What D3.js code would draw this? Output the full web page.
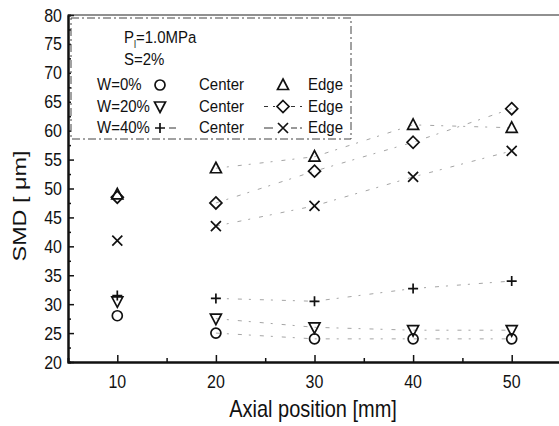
<!DOCTYPE html>
<html>
<head>
<meta charset="utf-8">
<script src="https://cdn.jsdelivr.net/npm/d3@7"></script>
<style>
  body { margin: 0; background: #fff; }
  text { font-family: "Liberation Sans", Arial, sans-serif; fill: #111; }
</style>
</head>
<body>
<div class="chart"></div>
<script>
const positions = [10, 20, 30, 40, 50];

const center0 = [28, 25, 24, 24, 24];
const center20 = [30.5, 27.5, 26, 25.5, 25.5];
const center40 = [31.5, 31, 30.5, 32.7, 34];
const edge0 = [49, 53.5, 55.5, 61, 60.5];
const edge20 = [48.5, 47.5, 53, 58, 63.8];
const edge40 = [41, 43.5, 47, 52, 56.5];

const xTicks = [10, 20, 30, 40, 50];
const yTicks = [20, 25, 30, 35, 40, 45, 50, 55, 60, 65, 70, 75, 80];

const series = [
  { name: "W=0% Center", values: center0, symbol: "circle" },
  { name: "W=20% Center", values: center20, symbol: "down" },
  { name: "W=40% Center", values: center40, symbol: "plus" },
  { name: "W=0% Edge", values: edge0, symbol: "up" },
  { name: "W=20% Edge", values: edge20, symbol: "diamond" },
  { name: "W=40% Edge", values: edge40, symbol: "cross" },
];

const width = 559, height = 426;
const margin = { top: 15, right: -2, bottom: 64, left: 68 };

let svg = d3.select(".chart").append("svg")
  .attr("width", width).attr("height", height);

let x = d3.scaleLinear().domain([5, 55]).range([margin.left, width - margin.right]);
let y = d3.scaleLinear().domain([20, 80]).range([height - margin.bottom, margin.top]);

// text that looks a bit tall, like the scanned original
function tallText(parent, tx, ty, str, size, sy, anchor) {
  let g = parent.append("g").attr("transform", `translate(${tx},${ty}) scale(1,${sy})`);
  let t = g.append("text").style("font-size", size + "px").attr("text-anchor", anchor || "start");
  if (str !== null) t.text(str);
  return t;
}

// faint broken connecting lines
series.forEach(s => {
  const pts = s.values.map((v, i) => [x(positions[i]), y(v)]).slice(1);
  svg.append("path")
    .attr("d", d3.line()(pts))
    .attr("fill", "none")
    .attr("stroke", "#9a9a9a")
    .attr("stroke-width", 0.9)
    .attr("stroke-dasharray", "4,7,2,9");
});

// symbols
function drawSymbol(g, type, cx, cy) {
  let el;
  if (type === "circle") {
    el = g.append("circle").attr("cx", cx).attr("cy", cy).attr("r", 5);
  } else if (type === "up") {
    el = g.append("path").attr("d", `M${cx},${cy - 6}L${cx + 5.5},${cy + 4.5}L${cx - 5.5},${cy + 4.5}Z`);
  } else if (type === "down") {
    el = g.append("path").attr("d", `M${cx},${cy + 6}L${cx + 5.5},${cy - 4.5}L${cx - 5.5},${cy - 4.5}Z`);
  } else if (type === "diamond") {
    el = g.append("path").attr("d", `M${cx},${cy - 6}L${cx + 6},${cy}L${cx},${cy + 6}L${cx - 6},${cy}Z`);
  } else if (type === "plus") {
    el = g.append("path").attr("d", `M${cx - 5},${cy}H${cx + 5}M${cx},${cy - 5}V${cy + 5}`);
  } else {
    el = g.append("path").attr("d", `M${cx - 5},${cy - 5}L${cx + 5},${cy + 5}M${cx - 5},${cy + 5}L${cx + 5},${cy - 5}`);
  }
  el.attr("fill", "none").attr("stroke", "#111").attr("stroke-width", 1.7);
}

let marks = svg.append("g");
series.forEach(s => {
  s.values.forEach((v, i) => drawSymbol(marks, s.symbol, x(positions[i]), y(v)));
});

// axes (ticks point inward, labels drawn separately so they can be stretched)
let xAxis = svg.append("g")
  .attr("transform", `translate(0,${y(20)})`)
  .call(d3.axisBottom(x).tickValues(xTicks).tickSizeInner(-7).tickSizeOuter(0).tickFormat(""));
let xMinor = svg.append("g")
  .attr("transform", `translate(0,${y(20)})`)
  .call(d3.axisBottom(x).tickValues([15, 25, 35, 45]).tickSize(-4).tickFormat(""));
let yAxis = svg.append("g")
  .attr("transform", `translate(${x(5)},0)`)
  .call(d3.axisLeft(y).tickValues(yTicks).tickSizeInner(-6).tickSizeOuter(0).tickFormat(""));
let yMinor = svg.append("g")
  .attr("transform", `translate(${x(5)},0)`)
  .call(d3.axisLeft(y).tickValues(d3.range(22.5, 80, 5)).tickSize(-3).tickFormat(""));

[xAxis, yAxis, xMinor, yMinor].forEach(a => {
  a.select(".domain").attr("stroke", "#111").attr("stroke-width", 2);
  a.selectAll(".tick line").attr("stroke", "#111").attr("stroke-width", 1.5);
});

xTicks.forEach(v => tallText(svg, x(v), y(20) + 26, String(v), 16, 1.18, "middle"));
yTicks.forEach(v => tallText(svg, x(5) - 6, y(v) + 6.5, String(v), 16, 1.18, "end"));

// top frame line
svg.append("line")
  .attr("x1", x(5)).attr("x2", width)
  .attr("y1", y(80)).attr("y2", y(80))
  .attr("stroke", "#222").attr("stroke-width", 1.2);

// axis titles
tallText(svg, 313, 417, "Axial position [mm]", 20, 1.18, "middle");
svg.append("text")
  .attr("transform", `translate(26,206) rotate(-90) scale(1.3,1)`)
  .attr("text-anchor", "middle")
  .style("font-size", "18px")
  .text("SMD [ μm]");

// legend
let lg = svg.append("g");
lg.append("rect")
  .attr("x", 71).attr("y", 18).attr("width", 280).attr("height", 121)
  .attr("fill", "#fff").attr("stroke", "#444").attr("stroke-width", 1)
  .attr("stroke-dasharray", "8,3,2,3");

let pl = tallText(lg, 124, 43, null, 15, 1.15);
pl.append("tspan").text("P");
pl.append("tspan").attr("dy", 4).style("font-size", "9px").text("l");
pl.append("tspan").attr("dy", -4).text("=1.0MPa");
tallText(lg, 124, 65, "S=2%", 15, 1.15);

const legendRows = ["W=0%", "W=20%", "W=40%"];
const centerSyms = ["circle", "down", "plus"];
const edgeSyms = ["up", "diamond", "cross"];
legendRows.forEach((lab, i) => {
  const yy = 90 + i * 21.5;
  tallText(lg, 97, yy, lab, 15, 1.15);
  drawSymbol(lg, centerSyms[i], 160, yy - 5);
  tallText(lg, 199, yy, "Center", 15, 1.15);
  if (i > 0) {
    lg.append("line").attr("x1", 264).attr("x2", 302).attr("y1", yy - 5).attr("y2", yy - 5)
      .attr("stroke", "#333").attr("stroke-width", 1).attr("stroke-dasharray", i === 1 ? "4,5" : "9,3");
    lg.append("rect").attr("x", 275).attr("y", yy - 12).attr("width", 16).attr("height", 14).attr("fill", "#fff");
  }
  if (i === 2) {
    lg.append("line").attr("x1", 169).attr("x2", 176).attr("y1", yy - 5).attr("y2", yy - 5)
      .attr("stroke", "#333").attr("stroke-width", 1);
  }
  drawSymbol(lg, edgeSyms[i], 283, yy - 5);
  tallText(lg, 308, yy, "Edge", 15, 1.15);
});
</script>
</body>
</html>
